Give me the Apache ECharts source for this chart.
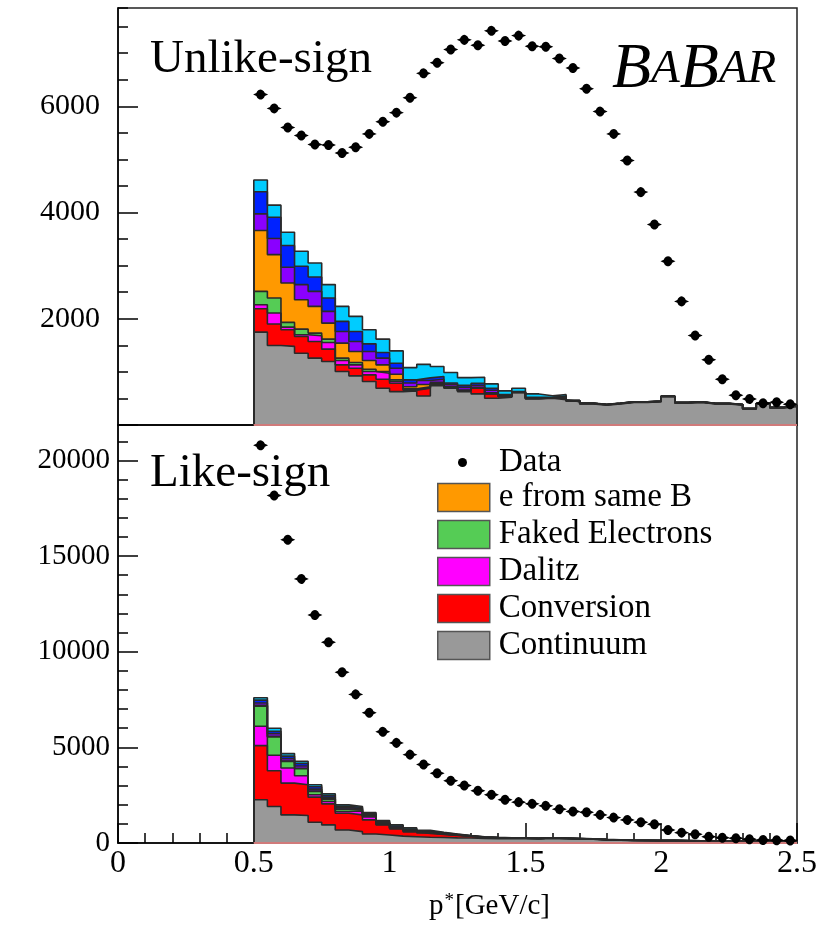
<!DOCTYPE html>
<html>
<head>
<meta charset="utf-8">
<script src="https://cdn.jsdelivr.net/npm/echarts@6/dist/echarts.min.js"></script>
<style>
  html, body { margin: 0; padding: 0; background: #fff; }
  #chart { width: 824px; height: 932px; }
</style>
</head>
<body>
<div id="chart"></div>
<script>
// Lower edges of the 0.05 GeV/c momentum bins
const binLow = [0.50, 0.55, 0.60, 0.65, 0.70, 0.75, 0.80, 0.85, 0.90, 0.95,
                1.00, 1.05, 1.10, 1.15, 1.20, 1.25, 1.30, 1.35, 1.40, 1.45,
                1.50, 1.55, 1.60, 1.65, 1.70, 1.75, 1.80, 1.85, 1.90, 1.95,
                2.00, 2.05, 2.10, 2.15, 2.20, 2.25, 2.30, 2.35, 2.40, 2.45];
const binWidth = 0.05;

// ---------- Unlike-sign pairs ----------
const unlikeData = [6220, 5960, 5600, 5450, 5280, 5270, 5120, 5230, 5480, 5710,
                    5880, 6160, 6620, 6820, 7070, 7250, 7150, 7420, 7230, 7330,
                    7130, 7120, 6900, 6720, 6330, 5900, 5480, 4980, 4384, 3774,
                    3082, 2327, 1685, 1227, 862, 560, 491, 409, 428, 390];
const unlikeContinuum = [1749, 1497, 1480, 1352, 1258, 1195, 1006, 925, 818, 692,
                         629, 640, 547, 742, 692, 629, 585, 503, 522, 610,
                         490, 503, 475, 440, 395, 375, 395, 425, 425, 438,
                         532, 413, 425, 395, 395, 375, 300, 395, 320, 350];
const unlikeConversion = [440, 403, 313, 315, 314, 233, 126, 144, 126, 170,
                          157, 15, 145, 20, 15, 10, 107, 82, 10, 5,
                          10, 5, 35, 10, 8, 5, 8, 5, 5, 5,
                          5, 5, 5, 5, 5, 5, 5, 5, 5, 5];
const unlikeDalitz = [75, 207, 50, 31, 107, 126, 82, 63, 62, 113,
                      32, 10, 10, 10, 5, 5, 5, 5, 3, 2,
                      2, 2, 5, 2, 2, 2, 2, 2, 2, 2,
                      2, 2, 2, 2, 2, 2, 2, 2, 2, 2];
const unlikeFaked = [252, 283, 88, 107, 51, 63, 44, 44, 44, 31,
                     31, 15, 15, 10, 5, 5, 5, 5, 3, 2,
                     2, 2, 5, 2, 2, 2, 2, 2, 2, 2,
                     2, 2, 2, 2, 2, 2, 2, 2, 2, 2];
const unlikeSameB = [1145, 818, 742, 554, 503, 301, 283, 208, 164, 126,
                     107, 40, 45, 20, 10, 10, 10, 10, 5, 3,
                     3, 3, 5, 2, 1, 1, 1, 1, 1, 1,
                     1, 1, 1, 1, 1, 1, 1, 1, 1, 1];
const unlikeCascade = [314, 302, 296, 283, 283, 221, 220, 188, 170, 126,
                       113, 70, 75, 60, 40, 50, 35, 50, 15, 5,
                       5, 3, 5, 2, 1, 1, 1, 1, 1, 1,
                       1, 1, 1, 1, 1, 1, 1, 1, 1, 1];
const unlikeCharmonium = [415, 402, 409, 346, 271, 252, 189, 189, 144, 107,
                          94, 60, 50, 50, 25, 37, 40, 37, 14, 3,
                          10, 3, 6, 2, 1, 1, 1, 1, 1, 1,
                          1, 1, 1, 1, 1, 1, 1, 1, 1, 1];
const unlikeOther = [221, 227, 251, 283, 264, 252, 283, 283, 265, 252,
                     233, 230, 255, 190, 195, 145, 113, 82, 70, 62,
                     63, 30, 35, 3, 2, 2, 2, 2, 2, 2,
                     2, 2, 2, 2, 2, 2, 2, 2, 2, 2];

// ---------- Like-sign pairs ----------
const likeData = [20787, 18162, 15852, 13805, 11915, 10498, 8923, 7769, 6808, 5811,
                  5233, 4619, 4100, 3650, 3254, 3008, 2729, 2520, 2257, 2136,
                  2047, 1942, 1769, 1643, 1611, 1470, 1328, 1207, 1087, 982,
                  682, 541, 457, 331, 278, 247, 194, 157, 140, 130];
const likeContinuum = [2257, 1907, 1470, 1435, 1085, 945, 682, 595, 472, 420,
                       360, 330, 300, 290, 270, 260, 240, 230, 225, 220,
                       210, 240, 225, 210, 195, 165, 145, 130, 125, 118,
                       120, 110, 100, 90, 92, 82, 82, 72, 72, 72];
const likeConversion = [2835, 1872, 1662, 1609, 1312, 1102, 875, 875, 735, 520,
                        380, 250, 200, 160, 130, 90, 50, 40, 35, 30,
                        25, 20, 15, 12, 10, 8, 6, 5, 4, 4,
                        4, 4, 4, 4, 4, 4, 4, 4, 4, 4];
const likeDalitz = [1014, 805, 787, 473, 123, 123, 88, 200, 150, 30,
                    25, 40, 20, 10, 10, 5, 5, 4, 3, 2,
                    2, 2, 2, 2, 2, 2, 2, 2, 2, 2,
                    2, 2, 2, 2, 2, 2, 2, 2, 2, 2];
const likeFaked = [1050, 963, 350, 367, 174, 122, 122, 62, 60, 30,
                   15, 20, 15, 10, 10, 5, 5, 2, 2, 2,
                   2, 2, 2, 2, 2, 2, 2, 2, 2, 2,
                   2, 2, 2, 2, 2, 2, 2, 2, 2, 2];
const likeSameB = [40, 30, 20, 20, 20, 15, 10, 10, 10, 5,
                   5, 5, 5, 5, 5, 1, 1, 1, 1, 1,
                   1, 1, 1, 1, 1, 1, 1, 1, 1, 1,
                   1, 1, 1, 1, 1, 1, 1, 1, 1, 1];
const likeCascade = [120, 130, 120, 120, 100, 90, 70, 55, 50, 50,
                     50, 40, 35, 25, 15, 10, 8, 6, 3, 3,
                     3, 3, 3, 3, 3, 3, 3, 3, 3, 3,
                     3, 3, 3, 3, 3, 3, 3, 3, 3, 3];
const likeCharmonium = [150, 130, 130, 130, 130, 100, 75, 55, 55, 55,
                        55, 50, 40, 30, 15, 10, 8, 6, 3, 3,
                        3, 3, 3, 3, 3, 3, 3, 3, 3, 3,
                        3, 3, 3, 3, 3, 3, 3, 3, 3, 3];
const likeOther = [128, 159, 133, 115, 100, 75, 73, 55, 60, 60,
                   55, 55, 45, 30, 15, 10, 8, 6, 4, 4,
                   4, 4, 4, 4, 4, 4, 4, 4, 4, 4,
                   4, 4, 4, 4, 4, 4, 4, 4, 4, 4];

// Axis ranges and tick labels
const xTicks = [0, 0.5, 1, 1.5, 2, 2.5];
const unlikeYTicks = [2000, 4000, 6000];
const likeYTicks = [0, 5000, 10000, 15000, 20000];

// Component names (bottom of stack first) and fill colours
const componentNames = ['Continuum', 'Conversion', 'Dalitz', 'Faked Electrons',
                        'e from same B', 'Cascade', 'Charmonium', 'Other'];
const componentColors = ['#999999', '#ff0000', '#ff00ff', '#55cc55',
                         '#ff9900', '#8a00ff', '#0022ff', '#00ccff'];
const legendNames = ['e from same B', 'Faked Electrons', 'Dalitz', 'Conversion', 'Continuum'];

const unlikeComponents = [unlikeContinuum, unlikeConversion, unlikeDalitz, unlikeFaked,
                          unlikeSameB, unlikeCascade, unlikeCharmonium, unlikeOther];
const likeComponents = [likeContinuum, likeConversion, likeDalitz, likeFaked,
                        likeSameB, likeCascade, likeCharmonium, likeOther];

const SERIF = "'Liberation Serif', 'DejaVu Serif', serif";
const xMax = xTicks[xTicks.length - 1];

// Step outline of one histogram: zero at the left edge, one level per bin, zero at the right edge
function stepPoints(vals) {
  const pts = [[binLow[0], 0]];
  vals.forEach((v, i) => pts.push([binLow[i], v]));
  pts.push([binLow[binLow.length - 1] + binWidth, vals[vals.length - 1]]);
  pts.push([binLow[binLow.length - 1] + binWidth, 0]);
  return pts;
}

// Running sums: each layer is drawn filled from zero up to the sum of itself and everything below it
function cumulative(components) {
  const out = [];
  components.forEach((vals, i) => {
    out.push(vals.map((v, k) => v + (i > 0 ? out[i - 1][k] : 0)));
  });
  return out;
}

// The tallest layer is drawn first, lower layers are painted over it
function stackSeries(components, axisIdx) {
  const sums = cumulative(components);
  const list = sums.map((vals, i) => ({
    name: componentNames[i],
    type: 'line',
    xAxisIndex: axisIdx,
    yAxisIndex: axisIdx,
    step: 'end',
    showSymbol: false,
    symbol: 'none',
    silent: true,
    color: componentColors[i],
    lineStyle: { color: '#2a2a2a', width: 1.6 },
    areaStyle: { color: componentColors[i], opacity: 1, origin: 'start' },
    data: stepPoints(vals),
    z: 2,
    markLine: i === 0 ? {
      silent: true, symbol: 'none', label: { show: false },
      lineStyle: { color: '#d07a7a', width: 2, type: 'solid' },
      data: [[{ coord: [binLow[0], 0] }, { coord: [xMax, 0] }]]
    } : undefined
  }));
  return list.reverse();
}

const dataMarker = 'path://M-6,0 L-3.4,-1 A3.6,3.6 0 0 1 3.4,-1 L6,0 L3.4,1 A3.6,3.6 0 0 1 -3.4,1 Z';

function pointSeries(vals, axisIdx) {
  return {
    name: 'Data',
    type: 'scatter',
    xAxisIndex: axisIdx,
    yAxisIndex: axisIdx,
    symbol: dataMarker,
    symbolSize: [15, 10],
    itemStyle: { color: '#000', opacity: 1 },
    silent: true,
    z: 5,
    data: vals.map((v, i) => [binLow[i] + binWidth / 2, v])
  };
}

const tickStyle = { color: '#000', width: 1.5 };

function xAxisPair(gridIndex, withTicks) {
  return [{
    type: 'value', gridIndex, position: 'bottom', min: 0, max: xMax, interval: 0.5,
    axisLine: { show: true, onZero: false, lineStyle: { color: '#000', width: 1.5 } },
    axisTick: { show: withTicks, inside: true, length: 20, lineStyle: tickStyle },
    axisLabel: withTicks ? {
      show: true, fontFamily: SERIF, fontSize: 32, color: '#000', margin: 5,
      formatter: v => (xTicks.indexOf(v) >= 0 ? String(v) : '')
    } : { show: false },
    splitLine: { show: false }
  }, {
    type: 'value', gridIndex, position: 'bottom', min: 0, max: xMax, interval: 0.1,
    axisLine: { show: false, onZero: false },
    axisTick: { show: withTicks, inside: true, length: 10, lineStyle: tickStyle },
    axisLabel: { show: false },
    splitLine: { show: false }
  }];
}

function yAxisPair(gridIndex, max, major, minor, labels, margin, fontSize) {
  return [{
    type: 'value', gridIndex, position: 'left', min: 0, max, interval: major,
    axisLine: { show: true, onZero: false, lineStyle: { color: '#000', width: 1.5 } },
    axisTick: { show: true, inside: true, length: 20, lineStyle: tickStyle },
    axisLabel: {
      show: true, fontFamily: SERIF, fontSize, color: '#000', margin,
      showMaxLabel: false,
      formatter: v => (labels.indexOf(v) >= 0 ? String(v) : '')
    },
    splitLine: { show: false }
  }, {
    type: 'value', gridIndex, position: 'left', min: 0, max, interval: minor,
    axisLine: { show: false, onZero: false },
    axisTick: { show: true, inside: true, length: 10, lineStyle: tickStyle },
    axisLabel: { show: false },
    splitLine: { show: false }
  }];
}

const [xTop, xTopMinor] = xAxisPair(0, false);
const [xBot, xBotMinor] = xAxisPair(1, true);
const [yTop, yTopMinor] = yAxisPair(0, 7850, 2000, 500, unlikeYTicks, 18, 30);
const [yBot, yBotMinor] = yAxisPair(1, 21850, 5000, 1000, likeYTicks, 8, 29);

const option = {
  backgroundColor: '#fff',
  animation: false,
  grid: [
    { left: 118, top: 8, width: 679, height: 417, show: true, borderColor: '#222', borderWidth: 1.5, backgroundColor: 'transparent' },
    { left: 118, top: 425, width: 679, height: 418, show: true, borderColor: '#222', borderWidth: 1.5, backgroundColor: 'transparent' }
  ],
  // axis order: top major, bottom major, top minor, bottom minor
  xAxis: [xTop, xBot, xTopMinor, xBotMinor],
  yAxis: [yTop, yBot, yTopMinor, yBotMinor],
  legend: [{
    orient: 'vertical', left: 458, top: 446, padding: 0,
    data: [{ name: 'Data', icon: 'circle', itemStyle: { color: '#000', borderWidth: 0 } }],
    itemWidth: 9, itemHeight: 9,
    selectedMode: false,
    textStyle: { fontFamily: SERIF, fontSize: 33, color: '#000', padding: [0, 0, 0, 27] }
  }, {
    orient: 'vertical', left: 437, top: 481, padding: 0,
    data: legendNames.map(n => ({
      name: n, icon: 'rect',
      itemStyle: { color: componentColors[componentNames.indexOf(n)], borderColor: '#555', borderWidth: 1.5 }
    })),
    itemWidth: 52, itemHeight: 28, itemGap: 4,
    selectedMode: false,
    textStyle: { fontFamily: SERIF, fontSize: 33, color: '#000', padding: [0, 0, 0, 4] }
  }],
  graphic: [
    { type: 'text', left: 150, top: 36, style: { text: 'Unlike-sign', font: `47px ${SERIF}`, fill: '#000' } },
    { type: 'text', left: 150, top: 450, style: { text: 'Like-sign', font: `47px ${SERIF}`, fill: '#000' } },
    {
      type: 'text', left: 612, top: 38,
      style: {
        text: '{b|B}{s|A}{b|B}{s|AR}',
        rich: {
          b: { fontFamily: SERIF, fontStyle: 'italic', fontSize: 64, color: '#000' },
          s: { fontFamily: SERIF, fontStyle: 'italic', fontSize: 47, color: '#000' }
        }
      }
    },
    {
      type: 'text', left: 429, top: 892,
      style: {
        text: '{p|p}{s|*}{t|[GeV/c]}',
        rich: {
          p: { fontFamily: SERIF, fontSize: 29, color: '#000' },
          s: { fontFamily: SERIF, fontSize: 19, color: '#000', verticalAlign: 'top', padding: [0, 1, 0, 1] },
          t: { fontFamily: SERIF, fontSize: 29, color: '#000' }
        }
      }
    }
  ],
  series: [
    ...stackSeries(unlikeComponents, 0),
    pointSeries(unlikeData, 0),
    ...stackSeries(likeComponents, 1),
    pointSeries(likeData, 1)
  ]
};

const chart = echarts.init(document.getElementById('chart'), null, { renderer: 'canvas' });
chart.setOption(option);
</script>
</body>
</html>
